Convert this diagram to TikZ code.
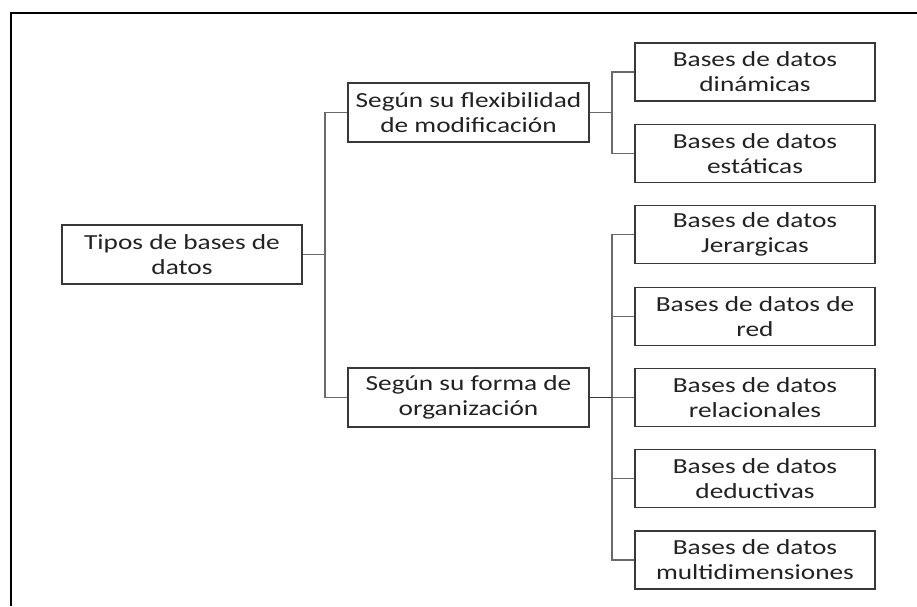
\documentclass[tikz,border=0pt]{standalone}
\usepackage{fontspec}
\setmainfont{Carlito}[FakeStretch=1.27]
\definecolor{boxline}{HTML}{383838}
\definecolor{linkline}{HTML}{6A6A6A}
\definecolor{txt}{HTML}{222222}
\begin{document}
\begin{tikzpicture}[x=1pt,y=-1pt,
  box/.style={draw=boxline,line width=1.2pt,inner sep=0pt,align=center,
    text=txt,font=\fontsize{21.5}{25}\selectfont,minimum width=240pt,minimum height=58pt},
  link/.style={draw=linkline,line width=1.4pt},
  frame/.style={draw=black,line width=2pt}]
  \useasboundingbox (0,0) rectangle (917,606);
  % open frame: left and top edges
  \draw[frame] (11,606) -- (11,13) -- (917,13);

  % root and the two criteria
  \node[box,minimum height=59pt] (root) at (182,254.5) {Tipos de bases de\\datos};
  \node[box,minimum width=241pt,minimum height=59pt] (flex) at (468.5,112.5) {Según su flexibilidad\\de modificación};
  \node[box,minimum width=241pt,minimum height=59pt] (org) at (468.5,397.5) {Según su forma de\\organización};

  % leaves
  \node[box] (din) at (755,72) {Bases de datos\\dinámicas};
  \node[box] (est) at (755,153.5) {Bases de datos\\estáticas};
  \node[box] (jer) at (755,234.5) {Bases de datos\\Jerargicas};
  \node[box] (red) at (755,316.5) {Bases de datos de\\red};
  \node[box] (rel) at (755,397.5) {Bases de datos\\relacionales};
  \node[box] (ded) at (755,478.5) {Bases de datos\\deductivas};
  \node[box] (mul) at (755,560) {Bases de datos\\multidimensiones};

  % junction points
  \coordinate (j0) at (325,254.5);
  \coordinate (j1) at (612,112.5);
  \coordinate (j2) at (612,397.5);

  % connectors
  \draw[link] (root.east) -- (j0);
  \draw[link] (j0) |- (flex.west);
  \draw[link] (j0) |- (org.west);

  \draw[link] (flex.east) -- (j1);
  \draw[link] (j1) |- (din.west);
  \draw[link] (j1) |- (est.west);

  \draw[link] (j2) |- (jer.west);
  \draw[link] (j2) |- (red.west);
  \draw[link] (j2) |- (rel.west);
  \draw[link] (j2) |- (ded.west);
  \draw[link] (j2) |- (mul.west);
  \draw[link,draw=boxline,line width=1.8pt] (org.east) -- (j2);
\end{tikzpicture}
\end{document}
